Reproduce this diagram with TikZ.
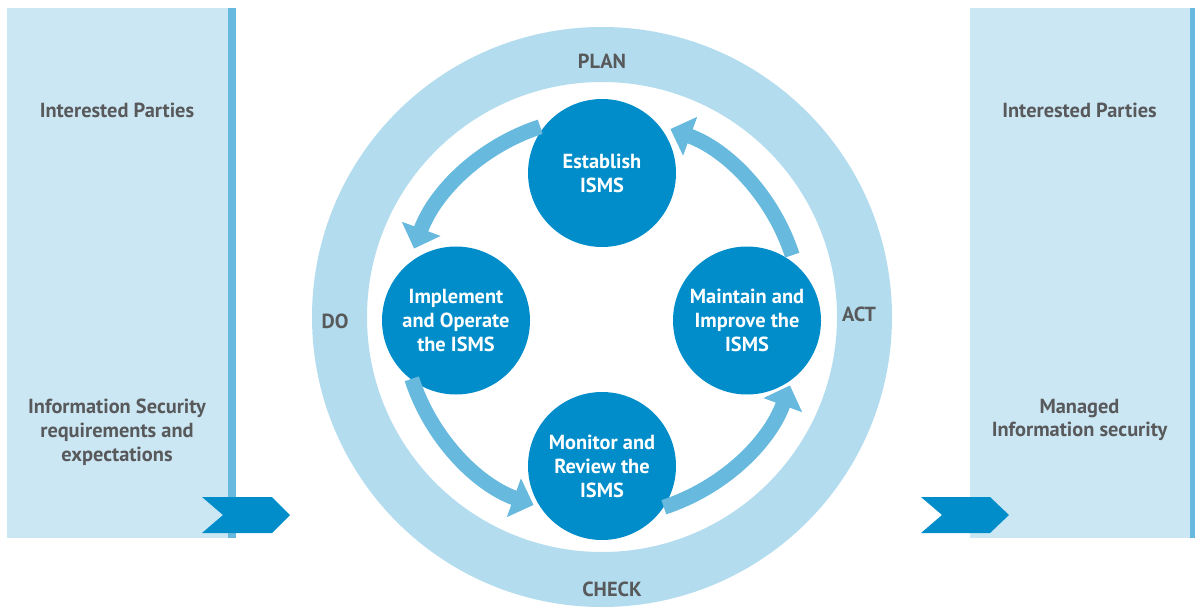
\documentclass[tikz,border=0pt]{standalone}
\usepackage{fontspec}
\setmainfont{PT Sans}
\usetikzlibrary{arrows.meta}

\definecolor{ismsdark}{HTML}{008DC9}
\definecolor{ismsmid}{HTML}{67B9DD}
\definecolor{ismsring}{HTML}{B3DDEF}
\definecolor{ismspanel}{HTML}{CCE7F4}
\definecolor{ismsgrey}{HTML}{58595B}

\tikzset{
  stage/.style={shape=circle,fill=ismsdark,minimum size=2.96cm,inner sep=0pt,
    text=white,align=center,font=\fontsize{11.6}{13.6}\selectfont\bfseries},
  sidetext/.style={text=ismsgrey,align=center,font=\fontsize{11.6}{13.6}\selectfont\bfseries},
  phase/.style={text=ismsgrey,font=\fontsize{11.6}{13.6}\selectfont\bfseries},
  cycarrow/.style={draw=ismsmid,line width=0.30cm,
    -{Triangle[length=0.42cm,width=0.80cm]}},
  chevron/.style={fill=ismsdark}
}

\begin{document}
\begin{tikzpicture}

	\useasboundingbox (0,0) rectangle (23.9,12.2);

	% side panels
	\fill[ismspanel] (0.14,1.44) rectangle (4.56,12.04);
	\fill[ismsmid]   (4.56,1.44) rectangle (4.72,12.04);
	\fill[ismspanel] (19.40,1.44) rectangle (23.80,12.04);
	\fill[ismsmid]   (23.80,1.44) rectangle (23.96,12.04);

	\node[sidetext] (inL)  at (2.34,10.00) {Interested Parties};
	\node[sidetext] (req)  at (2.34,3.56)  {Information Security\\requirements and\\expectations};
	\node[sidetext] (inR)  at (21.59,10.00) {Interested Parties};
	\node[sidetext] (man)  at (21.59,3.80) {Managed\\Information security};

	% chevrons
	\fill[chevron] (4.04,2.26) -- (5.44,2.26) -- (5.80,1.90) -- (5.44,1.54)
		-- (4.04,1.54) -- (4.46,1.90) -- cycle;
	\fill[chevron] (18.42,2.26) -- (19.80,2.26) -- (20.18,1.90) -- (19.80,1.54)
		-- (18.42,1.54) -- (18.84,1.90) -- cycle;

	% PDCA ring
	\coordinate (C) at (12.04,5.86);
	\fill[ismsring,even odd rule] (C) circle[radius=5.80] (C) circle[radius=4.70];

	\node[phase] (plan)  at (12.04,10.98) {PLAN};
	\node[phase] (do)    at (6.70,5.78)   {DO};
	\node[phase] (act)   at (17.18,5.92)  {ACT};
	\node[phase] (check) at (12.24,0.42)  {CHECK};

	% stages
	\node[stage] (est) at (12.04,8.74) {Establish\\ISMS};
	\node[stage] (imp) at (9.12,5.79)  {Implement\\and Operate\\the ISMS};
	\node[stage] (mai) at (14.94,5.79) {Maintain and\\Improve the\\ISMS};
	\node[stage] (mon) at (12.04,2.88) {Monitor and\\Review the\\ISMS};

	% cycle arrows
	\draw[cycarrow] ([shift={(108:4)}]C) arc[start angle=108,end angle=160,radius=4];
	\draw[cycarrow] ([shift={(198:4)}]C) arc[start angle=198,end angle=250,radius=4];
	\draw[cycarrow] ([shift={(288:4)}]C) arc[start angle=288,end angle=340,radius=4];
	\draw[cycarrow] ([shift={(18:4)}]C)  arc[start angle=18,end angle=70,radius=4];

\end{tikzpicture}
\end{document}
